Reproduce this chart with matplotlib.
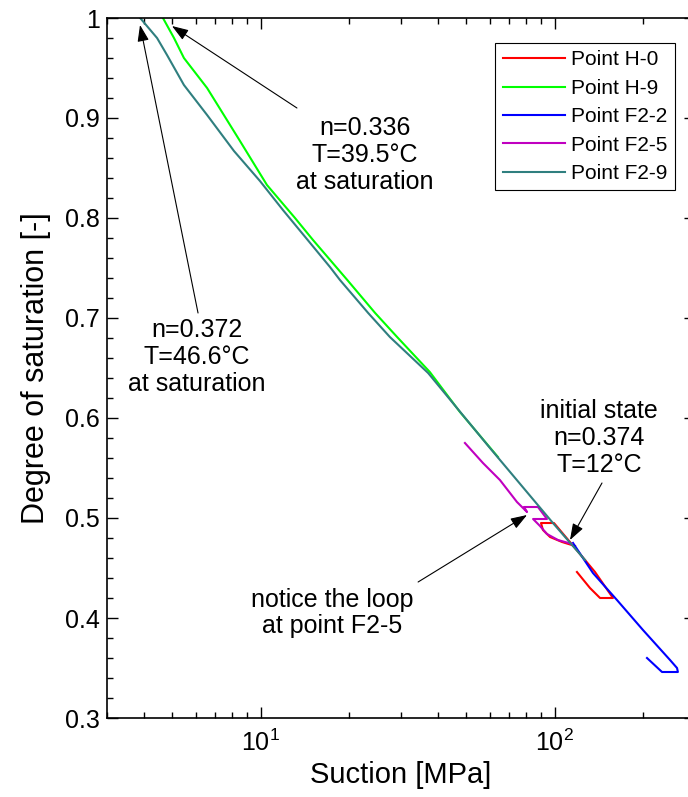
import matplotlib
matplotlib.use('Agg')
import matplotlib.pyplot as plt
from matplotlib.ticker import MultipleLocator, FuncFormatter, LogLocator, NullFormatter

plt.rcParams['font.family'] = ['Liberation Sans', 'DejaVu Sans']
plt.rcParams['mathtext.default'] = 'regular'

# Point H-0 (red)
h0_suction = [117.2, 105.9, 96.4, 91.2, 89.8, 99.4, 117.2, 137.1, 157.8, 142.6, 131.8, 119.0]
h0_sat = [0.472, 0.476, 0.481, 0.488, 0.495, 0.495, 0.470, 0.446, 0.420, 0.420, 0.430, 0.446]

# Point H-9 (green)
h9_suction = [4.65, 5.07, 5.48, 6.57, 8.50, 10.5, 13.08, 15.06, 19.7, 24.5, 29.1, 37.6, 47.6, 64.1]
h9_sat = [1.0, 0.98, 0.96, 0.93, 0.877, 0.833, 0.80, 0.778, 0.738, 0.705, 0.681, 0.646, 0.606, 0.561]

# Point F2-2 (blue)
f22_suction = [115.4, 134.9, 162.8, 199.6, 246.7, 260.6, 262.4, 231.7, 206.0]
f22_sat = [0.475, 0.445, 0.418, 0.388, 0.358, 0.350, 0.346, 0.346, 0.360]

# Point F2-5 (magenta)
f25_suction = [114.5, 102.6, 94.1, 89.1, 84.4, 94.1, 87.7, 78.6, 80.5, 74.4, 65.1, 57.0, 49.5]
f25_sat = [0.474, 0.478, 0.484, 0.492, 0.499, 0.499, 0.511, 0.511, 0.506, 0.516, 0.538, 0.555, 0.575]

# Point F2-9 (teal)
f29_suction = [3.89, 4.44, 4.80, 5.48, 6.57, 8.11, 9.94, 11.9, 17.2, 18.6, 23.2, 27.5, 37.1, 60.2, 98.6, 126.8]
f29_sat = [1.0, 0.98, 0.963, 0.933, 0.903, 0.867, 0.837, 0.808, 0.751, 0.738, 0.705, 0.681, 0.645, 0.570, 0.495, 0.458]

fig = plt.figure(figsize=(6.88, 7.97), dpi=100)
ax = fig.add_axes([107/688, 79/797, 588/688, 700/797])

ax.plot(h0_suction, h0_sat, color='#ff0000', lw=1.5, label='Point H-0')
ax.plot(h9_suction, h9_sat, color='#00ff00', lw=1.5, label='Point H-9')
ax.plot(f22_suction, f22_sat, color='#0000ff', lw=1.5, label='Point F2-2')
ax.plot(f25_suction, f25_sat, color='#c000c0', lw=1.5, label='Point F2-5')
ax.plot(f29_suction, f29_sat, color='#2f7f7f', lw=1.5, label='Point F2-9')

ax.set_xscale('log')
ax.set_xlim(3, 300)
ax.set_ylim(0.3, 1.0)
ax.xaxis.set_major_locator(LogLocator(base=10, numticks=10))
ax.xaxis.set_minor_locator(LogLocator(base=10, subs=range(2, 10), numticks=20))
ax.xaxis.set_minor_formatter(NullFormatter())
ax.yaxis.set_major_locator(MultipleLocator(0.1))
ax.yaxis.set_minor_locator(MultipleLocator(0.02))
ax.yaxis.set_major_formatter(FuncFormatter(lambda v, p: '%g' % round(v, 2)))

ax.tick_params(which='both', direction='in', top=True, right=True, labelsize=18, width=1)
ax.tick_params(which='major', length=8, pad=5)
ax.tick_params(axis='x', which='major', pad=8)
ax.tick_params(which='minor', length=4)
for s in ax.spines.values():
    s.set_linewidth(1.2)

ax.set_xlabel('Suction [MPa]', fontsize=21, labelpad=4)
ax.set_ylabel('Degree of saturation [-]', fontsize=22, labelpad=10)

leg = ax.legend(loc='upper right', bbox_to_anchor=(0.966, 0.964), borderaxespad=0,
                fontsize=15, fancybox=False, edgecolor='k', framealpha=1, handlelength=3.0,
                borderpad=0.35, labelspacing=0.45, handletextpad=0.3)
leg.get_frame().set_linewidth(0.8)

arrow = dict(arrowstyle='-|>,head_length=1.0,head_width=0.35', color='k', lw=0.8,
             shrinkA=0, shrinkB=0)

ax.annotate('', xy=(4.99, 0.992), xytext=(13.28, 0.910), arrowprops=arrow)
ax.text(22.6, 0.863, 'n=0.336\nT=39.5°C\nat saturation', ha='center', va='center',
        fontsize=18, linespacing=1.15)

ax.annotate('', xy=(3.885, 0.993), xytext=(6.12, 0.705), arrowprops=arrow)
ax.text(6.07, 0.661, 'n=0.372\nT=46.6°C\nat saturation', ha='center', va='center',
        fontsize=18, linespacing=1.15)

ax.annotate('', xy=(112.7, 0.478), xytext=(144.8, 0.535), arrowprops=arrow)
ax.text(141.5, 0.58, 'initial state\nn=0.374\nT=12°C', ha='center', va='center',
        fontsize=18, linespacing=1.15)

ax.annotate('', xy=(80.5, 0.503), xytext=(34.3, 0.436), arrowprops=arrow)
ax.text(17.5, 0.405, 'notice the loop\nat point F2-5', ha='center', va='center',
        fontsize=18, linespacing=1.15)

fig.savefig('out.png', dpi=100, facecolor='white')
